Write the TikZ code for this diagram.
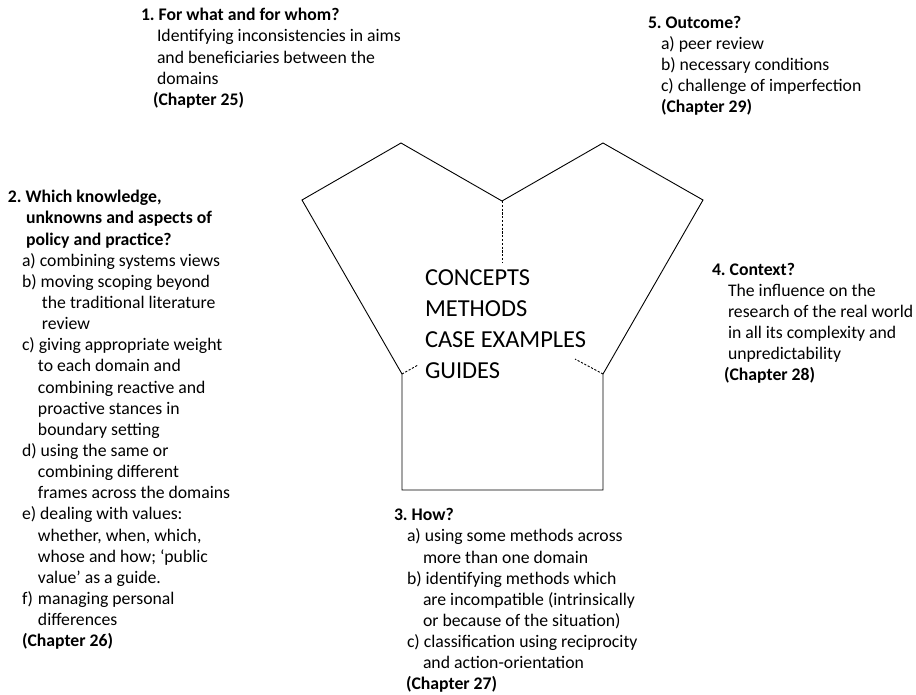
\documentclass[tikz,border=0pt]{standalone}
\usepackage{fontspec}
\setmainfont{Carlito}
\begin{document}
\frenchspacing
\newcommand\txtblock[1]{\parbox[t]{320pt}{\raggedright\fontsize{17.7}{21.15}\selectfont #1}}
\newcommand\coreblock[1]{\parbox[t]{220pt}{\raggedright\fontsize{24.4}{31}\selectfont #1}}
\newcommand\ind[1]{\hspace*{#1pt}}
\begin{tikzpicture}[x=1pt,y=-1pt,
  outline/.style={line width=0.9pt, line join=miter},
  dashlink/.style={line width=0.9pt, dash pattern=on 2.2pt off 1.6pt},
  block/.style={anchor=base west, inner sep=0pt, outer sep=0pt}]
\useasboundingbox (0,0) rectangle (916,694);

% outline vertices
\coordinate (bl) at (402,490);
\coordinate (ml) at (402,374);
\coordinate (lp) at (302,200);
\coordinate (la) at (401,143);
\coordinate (mv) at (502,201);
\coordinate (ra) at (603,143);
\coordinate (rp) at (703,200);
\coordinate (mr) at (603,374);
\coordinate (br) at (603,490);

\draw[outline] (bl) -- (ml) -- (lp) -- (la) -- (mv) -- (ra) -- (rp) -- (mr) -- (br) -- cycle;

% dashed inner seams
\coordinate (mvend) at (502,262);
\coordinate (mlend) at (418,365);
\coordinate (mrend) at (575,359);
\draw[dashlink] (mv) -- (mvend);
\draw[dashlink] (ml) -- (mlend);
\draw[dashlink] (mr) -- (mrend);

% centre list
\node[block] (core) at (425,285) {\coreblock{CONCEPTS\\METHODS\\CASE EXAMPLES\\GUIDES}};

% 1
\node[block] (q1) at (141,20.7) {\txtblock{%
\textbf{1. For what and for whom?}\\
\ind{16}Identifying inconsistencies in aims\\
\ind{16}and beneficiaries between the\\
\ind{16}domains\\
\ind{12}\textbf{(Chapter 25)}}};

% 5
\node[block] (q5) at (648,28) {\txtblock{%
\textbf{5. Outcome?}\\
\ind{13}a) peer review\\
\ind{13}b) necessary conditions\\
\ind{13}c) challenge of imperfection\\
\ind{13}\textbf{(Chapter 29)}}};

% 2
\node[block] (q2) at (8,202.7) {\txtblock{%
\textbf{2. Which knowledge,}\\
\ind{18}\textbf{unknowns and aspects of}\\
\ind{18}\textbf{policy and practice?}\\
\ind{14}a) combining systems views\\
\ind{14}b) moving scoping beyond\\
\ind{34}the traditional literature\\
\ind{34}review\\
\ind{14}c) giving appropriate weight\\
\ind{30}to each domain and\\
\ind{30}combining reactive and\\
\ind{30}proactive stances in\\
\ind{30}boundary setting\\
\ind{14}d) using the same or\\
\ind{30}combining different\\
\ind{30}frames across the domains\\
\ind{14}e) dealing with values:\\
\ind{30}whether, when, which,\\
\ind{30}whose and how; ‘public\\
\ind{30}value’ as a guide.\\
\ind{14}\makebox[16pt][l]{f)}managing personal\\
\ind{30}differences\\
\ind{14}\textbf{(Chapter 26)}}};

% 4
\node[block] (q4) at (712,275) {\txtblock{%
\textbf{4. Context?}\\
\ind{16}The influence on the\\
\ind{16}research of the real world\\
\ind{16}in all its complexity and\\
\ind{16}unpredictability\\
\ind{12}\textbf{(Chapter 28)}}};

% 3
\node[block] (q3) at (394,520.7) {\txtblock{%
\textbf{3. How?}\\
\ind{13}a) using some methods across\\
\ind{29}more than one domain\\
\ind{13}b) identifying methods which\\
\ind{29}are incompatible (intrinsically\\
\ind{29}or because of the situation)\\
\ind{13}c) classification using reciprocity\\
\ind{29}and action-orientation\\
\ind{12}\textbf{(Chapter 27)}}};
\end{tikzpicture}
\end{document}
